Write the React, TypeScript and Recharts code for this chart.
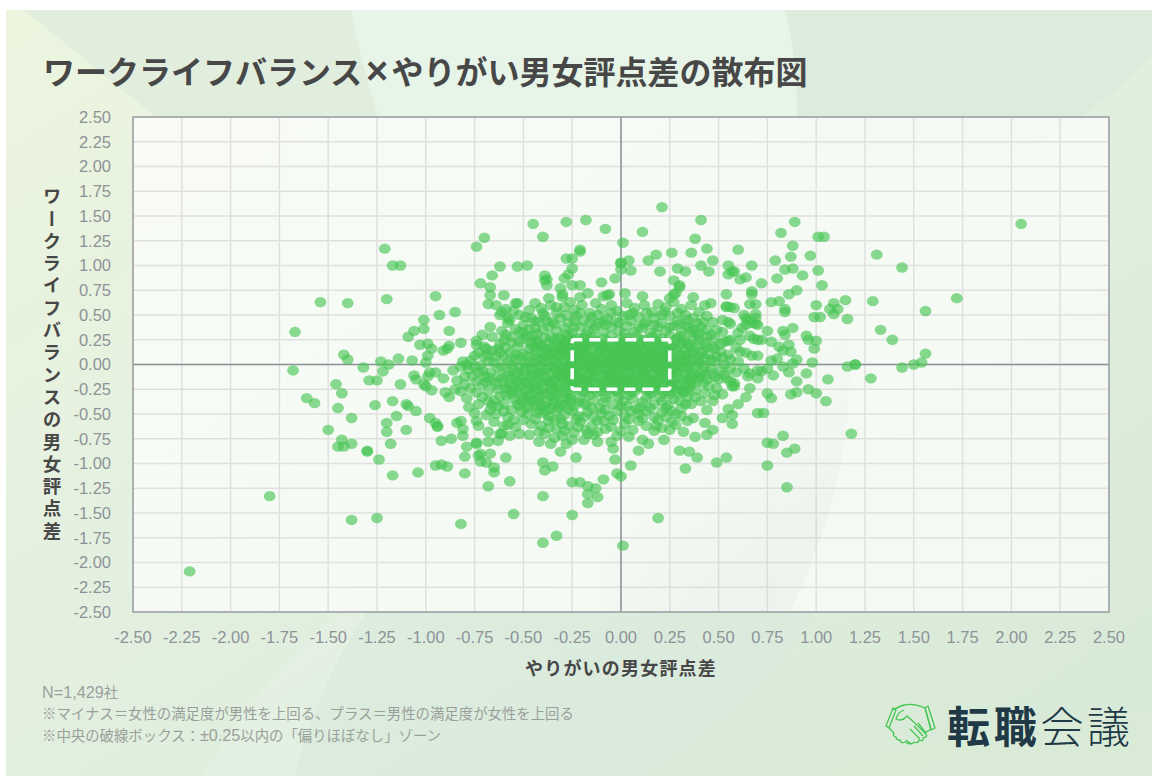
import { ScatterChart, Scatter, XAxis, YAxis, CartesianGrid, ReferenceLine, ReferenceArea } from 'recharts';

const titleStart = 'ワークライフバランス';
const titleCross = '×';
const titleEnd = 'やりがい男女評点差の散布図';
const xAxisTitle = 'やりがいの男女評点差';
const yAxisTitle = 'ワークライフバランスの男女評点差';
const notes = [
  'N=1,429社',
  '※マイナス＝女性の満足度が男性を上回る、プラス＝男性の満足度が女性を上回る',
  '※中央の破線ボックス：±0.25以内の「偏りほぼなし」ゾーン',
];
const ticks = [-2.5, -2.25, -2, -1.75, -1.5, -1.25, -1, -0.75, -0.5, -0.25, 0, 0.25, 0.5, 0.75, 1, 1.25, 1.5, 1.75, 2, 2.25, 2.5];

// 左側の外れ値 (上)
const leftUpper = [
  [-0.70,1.28],[-0.74,1.19],[-1.21,1.17],[-1.17,1.00],[-1.13,1.00],[-0.62,0.99],[-0.53,0.99],[-0.66,0.90],[-0.72,0.82],[-0.67,0.78],
  [-0.67,0.70],[-0.60,0.70],[-0.95,0.69],[-1.20,0.66],[-1.54,0.63],[-1.40,0.62],[-0.68,0.61],[-0.64,0.60],[-0.54,0.62],[-0.59,0.56],
  [-0.85,0.53],[-0.93,0.50],[-0.62,0.50],[-0.58,0.47],[-1.01,0.45],[-1.01,0.36],[-1.06,0.34],[-1.09,0.28],[-0.88,0.34],[-0.67,0.38],
  [-0.61,0.34],[-0.58,0.42],[-0.54,0.36],[-1.67,0.33],[-0.56,0.28],[-1.03,0.20],[-0.99,0.21],[-0.97,0.16],[-0.82,0.22],[-0.88,0.19],
  [-0.89,0.16],[-0.91,0.14],[-0.74,0.24],[-0.74,0.20],[-0.70,0.18],[-0.69,0.16],[-0.62,0.21],[-0.63,0.16],[-0.59,0.17],[-0.52,0.23],
  [-1.42,0.10],[-1.40,0.05],[-1.23,0.03],[-1.19,0.00],[-1.14,0.06],[-1.07,0.04],[-1.00,0.02],[-0.99,0.09],[-0.75,0.09],[-0.77,0.04],
  [-0.81,0.03],[-0.82,-0.02],[-0.72,-0.01],
];

// 左側の外れ値 (下)
const leftLower = [
  [-1.32,-0.03],[-1.68,-0.06],[-1.22,-0.07],[-0.95,-0.08],[-0.98,-0.08],[-1.06,-0.11],[-1.05,-0.15],[-0.99,-0.12],[-0.80,-0.12],[-0.76,-0.12],
  [-1.29,-0.16],[-1.25,-0.16],[-1.13,-0.20],[-1.46,-0.20],[-1.01,-0.20],[-1.00,-0.22],[-0.97,-0.26],[-1.43,-0.29],[-0.71,-0.20],[-0.69,-0.18],
  [-0.68,-0.27],[-0.90,-0.28],[-0.82,-0.27],[-1.61,-0.34],[-1.57,-0.39],[-1.45,-0.44],[-1.38,-0.54],[-1.26,-0.41],[-1.17,-0.37],[-1.10,-0.40],
  [-1.09,-0.42],[-1.05,-0.47],[-1.15,-0.52],[-1.20,-0.59],[-1.20,-0.68],[-1.10,-0.66],[-1.50,-0.66],[-1.43,-0.76],[-1.38,-0.80],[-1.45,-0.83],
  [-1.42,-0.83],[-1.30,-0.87],[-1.30,-0.88],[-1.24,-0.96],[-1.18,-0.80],[-1.17,-1.12],[-1.04,-1.09],[-1.80,-1.33],[-1.38,-1.57],[-1.25,-1.55],
  [-0.82,-1.61],[-0.55,-1.51],[-2.21,-2.09],[-0.98,-0.54],[-0.95,-0.59],[-0.94,-0.63],[-0.94,-0.62],[-0.84,-0.59],[-0.82,-0.57],[-0.81,-0.65],
  [-0.81,-0.72],[-0.92,-0.77],[-0.87,-0.75],[-0.79,-0.83],[-0.74,-0.79],[-0.74,-0.80],[-0.68,-0.78],[-0.63,-0.77],[-0.68,-0.68],[-0.62,-0.70],
  [-0.73,-0.62],[-0.74,-0.57],[-0.75,-0.49],[-0.78,-0.43],[-0.67,-0.90],[-0.59,-0.94],[-0.80,-0.93],[-0.73,-0.92],[-0.72,-0.90],[-0.72,-0.98],
  [-0.69,-0.99],[-0.95,-1.02],[-0.92,-1.01],[-0.89,-1.03],[-0.80,-1.10],[-0.65,-1.04],[-0.65,-1.09],[-0.57,-1.18],[-0.68,-1.23],[-0.67,-0.46],
  [-0.63,-0.42],[-0.79,-0.34],[-0.88,-0.33],
];

// 右側
const rightSide = [
  [0.89,1.44],[0.82,1.33],[1.01,1.29],[1.04,1.29],[0.88,1.20],[0.60,1.16],[0.87,1.09],[0.97,1.10],[0.79,1.05],[1.31,1.11],
  [1.44,0.98],[2.05,1.42],[0.55,1.00],[0.67,1.00],[0.84,0.96],[0.88,0.97],[1.01,0.95],[0.58,0.94],[0.57,0.94],[0.55,0.91],
  [0.93,0.90],[0.64,0.88],[0.61,0.86],[0.80,0.87],[0.72,0.82],[1.03,0.80],[0.67,0.74],[0.67,0.71],[0.90,0.75],[0.86,0.71],
  [0.54,0.71],[1.72,0.67],[1.29,0.64],[1.15,0.65],[1.09,0.62],[0.81,0.64],[0.77,0.63],[1.00,0.60],[0.69,0.61],[0.66,0.61],
  [0.54,0.59],[0.56,0.58],[0.58,0.57],[1.56,0.54],[1.07,0.56],[1.11,0.56],[1.09,0.51],[0.84,0.56],[0.84,0.53],[0.63,0.50],
  [0.69,0.51],[0.99,0.48],[1.02,0.48],[1.16,0.46],[0.64,0.47],[0.65,0.45],[0.69,0.47],[0.52,0.45],[0.55,0.43],[0.56,0.41],
  [0.64,0.40],[0.67,0.42],[0.69,0.41],[0.70,0.40],[0.62,0.37],[0.88,0.37],[0.75,0.34],[0.83,0.34],[0.84,0.30],[1.33,0.35],
  [1.39,0.25],[0.60,0.32],[0.66,0.29],[0.95,0.29],[0.96,0.25],[1.00,0.24],[0.72,0.25],[0.70,0.25],[0.77,0.23],[0.52,0.33],
  [0.53,0.23],[0.55,0.24],[0.59,0.17],[0.81,0.18],[0.86,0.20],[0.99,0.16],[1.56,0.11],[0.64,0.12],[0.67,0.09],[0.70,0.09],
  [0.83,0.14],[0.87,0.13],[0.80,0.06],[0.77,0.04],[0.90,0.05],[0.88,0.01],[0.98,0.02],[1.16,-0.02],[1.20,0.00],[1.20,0.00],
  [1.44,-0.03],[1.50,0.00],[1.54,0.02],[0.83,-0.02],[0.86,-0.08],[0.95,-0.09],[0.78,-0.11],[0.75,-0.04],[0.72,-0.07],[0.70,-0.14],
  [1.06,-0.15],[1.28,-0.14],[0.90,-0.17],[0.96,-0.25],[1.00,-0.29],[0.90,-0.28],[0.87,-0.30],[1.05,-0.37],[0.75,-0.29],[0.77,-0.34],
  [0.64,-0.33],[0.58,-0.19],[0.57,-0.22],[0.54,-0.14],[0.63,-0.04],[0.66,-0.09],[0.56,0.05],[1.18,-0.70],[0.83,-0.72],[0.75,-0.79],
  [0.78,-0.80],[0.89,-0.85],[0.85,-0.89],[0.75,-1.02],[0.85,-1.24],[0.54,-0.94],[0.49,-0.99],[0.36,-0.40],[0.44,-0.46],[0.47,-0.37],
  [0.37,-0.54],[0.43,-0.59],[0.55,-0.45],[0.57,-0.51],[0.52,-0.54],[0.57,-0.60],[0.70,-0.49],[0.38,-0.26],[0.42,-0.19],[0.45,-0.22],
  [0.49,-0.24],[0.56,-0.17],[0.58,-0.22],[0.65,-0.12],[0.40,0.08],[0.45,0.10],[0.51,0.13],[0.61,0.13],[0.46,-0.04],[0.51,-0.06],
  [0.56,-0.04],[0.70,-0.06],[0.61,0.25],[0.68,0.26],[0.51,0.21],[0.49,0.35],[0.56,0.25],[0.40,0.25],[0.44,0.35],[0.39,0.42],
  [0.34,0.45],[0.40,0.53],[0.46,0.62],[0.43,0.60],[0.54,0.58],[0.73,-0.49],[0.60,-0.40],[0.66,-0.24],
];

// 上側・下側の散らばり
const topBottom = [
  [0.21,1.59],[0.41,1.46],[-0.18,1.46],[-0.28,1.44],[-0.45,1.42],[-0.08,1.37],[0.11,1.34],[-0.40,1.29],[0.01,1.23],[0.38,1.27],
  [0.44,1.17],[0.36,1.13],[0.26,1.13],[0.18,1.11],[0.14,1.05],[0.04,1.05],[-0.21,1.16],[-0.21,1.14],[-0.28,1.07],[-0.25,1.07],
  [0.00,1.03],[0.00,1.02],[0.00,0.96],[0.05,0.95],[-0.25,0.97],[-0.48,1.00],[0.47,1.05],[0.41,1.00],[0.45,0.94],[0.20,0.94],
  [0.29,0.97],[0.33,0.94],[0.27,0.85],[0.30,0.80],[0.30,0.78],[-0.03,0.87],[-0.10,0.83],[-0.29,0.87],[-0.27,0.91],[-0.39,0.90],
  [-0.38,0.86],[-0.39,0.85],[-0.38,0.80],[-0.31,0.77],[-0.25,0.80],[-0.21,0.80],[-0.30,0.71],[-0.30,0.68],[-0.21,0.68],[-0.17,0.72],
  [-0.07,0.70],[-0.06,0.71],[-0.09,0.69],[0.02,0.72],[0.11,0.69],[0.27,0.71],[0.25,0.67],[0.37,0.68],[0.28,0.72],[-0.37,0.67],
  [0.30,-0.87],[0.35,-0.88],[0.39,-0.94],[0.33,-1.05],[0.38,-0.73],[0.44,-0.71],[0.47,-0.66],[0.22,-0.76],[0.17,-0.67],[0.21,-0.64],
  [0.14,-0.80],[0.11,-0.76],[0.09,-0.87],[0.05,-1.02],[-0.04,-0.85],[-0.03,-0.96],[-0.02,-1.10],[0.00,-1.13],[-0.09,-1.16],[-0.25,-1.19],
  [-0.21,-1.19],[-0.17,-1.23],[-0.13,-1.25],[-0.17,-1.31],[-0.12,-1.34],[-0.17,-1.40],[-0.40,-1.33],[-0.40,-0.99],[-0.39,-1.07],[-0.35,-1.03],
  [-0.23,-0.94],[-0.31,-0.88],[0.19,-1.55],[-0.25,-1.52],[-0.33,-1.73],[-0.40,-1.80],[0.01,-1.83],
];

// 中心から上 (0.3 - 0.7)
const midUpper = [
  [-0.53,0.62],[-0.47,0.55],[-0.40,0.35],[-0.61,0.53],[-0.57,0.45],[-0.50,0.40],[-0.46,0.23],[-0.59,0.30],[-0.44,0.62],[-0.41,0.57],
  [-0.36,0.60],[-0.33,0.52],[-0.29,0.58],[-0.26,0.63],[-0.24,0.55],[-0.20,0.60],[-0.16,0.52],[-0.13,0.62],[-0.10,0.56],[-0.05,0.60],
  [-0.02,0.54],[0.03,0.62],[0.07,0.57],[0.12,0.60],[0.16,0.53],[0.19,0.61],[0.23,0.58],[0.27,0.63],[0.31,0.56],[0.36,0.60],
  [-0.49,0.48],[-0.44,0.44],[-0.39,0.49],[-0.35,0.43],[-0.31,0.47],[-0.27,0.42],[-0.23,0.49],[-0.19,0.44],[-0.15,0.48],[-0.11,0.42],
  [-0.07,0.47],[-0.03,0.43],[0.01,0.49],[0.05,0.44],[0.09,0.48],[0.13,0.43],[0.17,0.47],[0.21,0.42],[0.25,0.49],[0.29,0.44],
  [0.33,0.50],[0.37,0.36],[0.44,0.49],[0.47,0.43],[-0.52,0.33],[-0.47,0.36],[-0.43,0.31],[-0.37,0.38],[-0.33,0.34],[-0.29,0.37],
  [-0.25,0.32],[-0.21,0.38],[-0.17,0.34],[-0.13,0.39],[-0.09,0.33],[-0.05,0.38],[-0.01,0.34],[0.03,0.39],[0.07,0.33],[0.11,0.37],
  [0.15,0.32],[0.19,0.38],[0.23,0.34],[0.27,0.39],[0.31,0.33],[0.35,0.37],[0.40,0.32],[0.46,0.30],[-0.24,0.44],[-0.14,0.36],
  [0.06,0.52],[0.22,0.53],[-0.08,0.40],[0.12,0.41],[0.30,0.41],[-0.34,0.41],[-0.18,0.30],[0.02,0.31],[0.18,0.31],[0.42,0.43],
];

// 中心から下 (-0.3 - -0.8)
const midLower = [
  [-0.47,-0.36],[-0.40,-0.49],[-0.50,-0.56],[-0.58,-0.61],[-0.61,-0.70],[-0.47,-0.71],[-0.42,-0.78],[-0.36,-0.80],[-0.28,-0.80],[-0.19,-0.76],
  [-0.17,-0.70],[-0.43,-0.36],[-0.36,-0.44],[-0.57,-0.26],[-0.55,-0.35],[-0.60,-0.40],[-0.64,-0.50],[-0.56,-0.46],[-0.52,-0.42],[-0.48,-0.50],
  [-0.44,-0.55],[-0.41,-0.62],[-0.37,-0.57],[-0.33,-0.65],[-0.31,-0.55],[-0.27,-0.62],[-0.24,-0.69],[-0.21,-0.58],[-0.15,-0.62],[-0.12,-0.68],
  [-0.09,-0.57],[-0.05,-0.63],[-0.02,-0.72],[0.02,-0.60],[0.06,-0.66],[0.09,-0.57],[0.13,-0.62],[0.26,-0.58],[0.31,-0.52],[-0.58,-0.53],
  [-0.54,-0.63],[-0.52,-0.70],[-0.39,-0.70],[-0.34,-0.74],[-0.30,-0.72],[-0.25,-0.76],[-0.12,-0.78],[0.23,-0.53],[0.28,-0.61],[0.32,-0.68],
  [-0.46,-0.30],[-0.42,-0.33],[-0.38,-0.38],[-0.34,-0.33],[-0.31,-0.40],[-0.28,-0.35],[-0.24,-0.42],[-0.21,-0.34],[-0.18,-0.41],[-0.14,-0.36],
  [-0.11,-0.44],[-0.08,-0.34],[-0.04,-0.40],[-0.01,-0.33],[0.03,-0.42],[0.06,-0.35],[0.10,-0.43],[0.13,-0.34],[0.17,-0.40],[0.20,-0.33],
  [0.24,-0.41],[0.27,-0.35],[0.31,-0.44],[0.34,-0.33],[-0.33,-0.47],[-0.29,-0.51],[-0.25,-0.47],[-0.22,-0.52],[-0.17,-0.48],[-0.14,-0.53],
  [-0.10,-0.49],[-0.06,-0.52],[-0.02,-0.47],[0.02,-0.52],[0.05,-0.47],[0.09,-0.50],[0.13,-0.47],[0.17,-0.53],[0.21,-0.48],[0.26,-0.47],
  [-0.36,-0.32],[-0.26,-0.30],[-0.16,-0.31],[-0.06,-0.30],[0.04,-0.31],[0.15,-0.30],[0.25,-0.30],[0.29,-0.29],[0.33,-0.27],[-0.30,-0.60],
];

// 中央の左右 (左ウイング)
const leftWing = [
  [-0.54,0.05],[-0.61,-0.02],[-0.57,0.12],[-0.64,0.08],[-0.68,0.03],[-0.60,0.25],[-0.66,0.28],[-0.71,0.30],[-0.53,0.18],[-0.50,0.11],
  [-0.47,0.16],[-0.44,0.09],[-0.41,0.19],[-0.49,0.02],[-0.45,-0.03],[-0.58,-0.07],[-0.63,-0.12],[-0.67,-0.08],[-0.71,-0.06],[-0.54,-0.12],
  [-0.50,-0.07],[-0.47,-0.15],[-0.43,-0.10],[-0.60,-0.18],[-0.55,-0.22],[-0.51,-0.18],[-0.47,-0.24],[-0.43,-0.19],[-0.63,-0.25],[-0.59,-0.31],
  [-0.65,-0.36],[-0.71,-0.33],[-0.77,-0.24],[-0.84,-0.16],[-0.86,-0.06],[-0.91,-0.14],[-0.78,-0.05],[-0.73,0.12],[-0.66,0.14],[-0.39,0.27],
  [-0.45,0.29],[-0.50,0.26],[-0.54,0.10],[-0.40,0.12],[-0.39,0.03],[-0.40,-0.05],[-0.39,-0.14],[-0.40,-0.24],[-0.52,-0.29],[-0.44,0.02],
];

// 中心部 (密集)
const core = [
  [-0.36,0.28],[-0.31,0.26],[-0.27,0.29],[-0.22,0.27],[-0.18,0.25],[-0.14,0.28],[-0.09,0.26],[-0.05,0.29],[-0.01,0.25],[0.03,0.27],[0.08,0.29],[0.12,0.25],[0.16,0.28],[0.21,0.26],[0.25,0.29],[0.29,0.27],[0.33,0.24],[0.37,0.28],
  [-0.37,0.22],[-0.33,0.20],[-0.29,0.23],[-0.25,0.19],[-0.21,0.22],[-0.17,0.20],[-0.12,0.23],[-0.08,0.19],[-0.04,0.22],[0.00,0.20],[0.05,0.23],[0.09,0.19],[0.13,0.22],[0.18,0.20],[0.22,0.23],[0.26,0.19],[0.31,0.22],[0.35,0.19],[0.39,0.20],[0.44,0.18],
  [-0.38,0.16],[-0.34,0.14],[-0.30,0.17],[-0.26,0.13],[-0.23,0.16],[-0.19,0.14],[-0.15,0.17],[-0.11,0.13],[-0.06,0.16],[-0.02,0.14],[0.02,0.17],[0.07,0.13],[0.11,0.16],[0.15,0.14],[0.20,0.17],[0.24,0.13],[0.28,0.16],[0.33,0.14],[0.37,0.17],[0.42,0.14],[0.48,0.16],
  [-0.36,0.10],[-0.32,0.08],[-0.28,0.11],[-0.24,0.07],[-0.20,0.10],[-0.16,0.08],[-0.13,0.11],[-0.09,0.07],[-0.04,0.10],[0.00,0.08],[0.04,0.11],[0.09,0.07],[0.13,0.10],[0.17,0.08],[0.22,0.11],[0.26,0.07],[0.30,0.10],[0.34,0.08],[0.37,0.11],[0.43,0.06],[0.49,0.08],
  [-0.37,0.04],[-0.33,0.02],[-0.29,0.05],[-0.25,0.01],[-0.21,0.04],[-0.17,0.02],[-0.14,0.05],[-0.10,0.01],[-0.06,0.04],[-0.02,0.02],[0.03,0.05],[0.07,0.01],[0.11,0.04],[0.15,0.02],[0.19,0.05],[0.24,0.01],[0.28,0.04],[0.32,0.02],[0.36,0.04],[0.40,0.01],[0.48,0.03],[0.53,0.00],
  [-0.35,-0.02],[-0.31,-0.04],[-0.27,-0.01],[-0.23,-0.05],[-0.19,-0.02],[-0.15,-0.04],[-0.12,-0.01],[-0.08,-0.05],[-0.03,-0.02],[0.01,-0.04],[0.05,-0.01],[0.10,-0.05],[0.14,-0.02],[0.18,-0.04],[0.22,-0.01],[0.26,-0.05],[0.30,-0.02],[0.34,-0.04],[0.38,-0.02],[0.42,-0.06],
  [-0.36,-0.08],[-0.32,-0.10],[-0.28,-0.07],[-0.24,-0.11],[-0.20,-0.08],[-0.16,-0.10],[-0.13,-0.07],[-0.09,-0.11],[-0.05,-0.08],[-0.01,-0.10],[0.04,-0.07],[0.08,-0.11],[0.12,-0.08],[0.16,-0.10],[0.21,-0.07],[0.25,-0.11],[0.29,-0.08],[0.33,-0.10],[0.37,-0.08],[0.43,-0.11],[0.48,-0.13],
  [-0.38,-0.14],[-0.34,-0.16],[-0.30,-0.13],[-0.26,-0.17],[-0.22,-0.14],[-0.18,-0.16],[-0.14,-0.13],[-0.10,-0.17],[-0.06,-0.14],[-0.02,-0.16],[0.02,-0.13],[0.06,-0.17],[0.11,-0.14],[0.15,-0.16],[0.19,-0.13],[0.23,-0.17],[0.27,-0.14],[0.32,-0.16],[0.36,-0.15],[0.40,-0.13],[0.50,-0.15],
  [-0.36,-0.20],[-0.32,-0.22],[-0.28,-0.19],[-0.24,-0.23],[-0.20,-0.20],[-0.17,-0.22],[-0.13,-0.19],[-0.09,-0.23],[-0.04,-0.20],[0.00,-0.22],[0.04,-0.19],[0.08,-0.23],[0.13,-0.20],[0.17,-0.22],[0.21,-0.19],[0.25,-0.23],[0.29,-0.20],[0.33,-0.22],[0.36,-0.20],
  [-0.35,-0.26],[-0.31,-0.25],[-0.27,-0.27],[-0.22,-0.25],[-0.18,-0.28],[-0.14,-0.25],[-0.10,-0.27],[-0.05,-0.25],[-0.01,-0.28],[0.03,-0.25],[0.07,-0.27],[0.12,-0.25],[0.16,-0.28],[0.20,-0.25],[0.24,-0.27],[0.28,-0.25],[0.32,-0.28],
  [-0.30,0.12],[-0.20,0.03],[-0.10,0.15],[-0.15,-0.06],[-0.05,0.06],[0.05,-0.03],[0.12,0.12],[0.20,-0.09],[-0.08,-0.18],[0.10,0.21],[-0.22,-0.12],[0.18,0.00],[0.02,0.09],[-0.12,0.18],[0.08,-0.15],
  [-0.18,0.09],[-0.06,-0.09],[0.14,0.06],[0.23,0.15],[-0.26,0.19],[0.06,0.18],[-0.02,-0.18],[0.27,-0.04],[-0.28,-0.02],[0.16,-0.19],[0.00,0.00],[-0.11,-0.03],[0.11,0.01],[0.22,0.03],[-0.21,0.14],
];

// 中心部の重なり分 (読み取り推定)
const coreDense = [
  [-0.34,0.25],[-0.29,0.20],[-0.24,0.25],[-0.19,0.18],[-0.15,0.23],[-0.11,0.20],[-0.07,0.24],[-0.03,0.18],[0.01,0.23],[0.06,0.20],[0.10,0.25],[0.14,0.19],[0.19,0.23],[0.24,0.21],[0.28,0.25],[0.34,0.21],
  [-0.35,0.12],[-0.31,0.15],[-0.27,0.09],[-0.22,0.12],[-0.18,0.15],[-0.14,0.08],[-0.08,0.12],[-0.04,0.14],[0.01,0.12],[0.05,0.15],[0.09,0.10],[0.14,0.12],[0.18,0.14],[0.23,0.09],[0.27,0.12],[0.32,0.10],[0.36,0.13],
  [-0.34,0.05],[-0.30,0.01],[-0.26,0.04],[-0.22,-0.01],[-0.18,0.05],[-0.12,0.03],[-0.08,0.05],[-0.04,0.00],[0.01,0.03],[0.05,0.06],[0.09,0.02],[0.13,0.06],[0.17,0.00],[0.21,0.06],[0.26,0.02],[0.31,0.05],[0.35,0.00],
  [-0.33,-0.06],[-0.29,-0.09],[-0.25,-0.04],[-0.21,-0.07],[-0.17,-0.03],[-0.11,-0.07],[-0.07,-0.02],[-0.02,-0.06],[0.03,-0.09],[0.07,-0.04],[0.11,-0.07],[0.15,-0.03],[0.19,-0.07],[0.24,-0.03],[0.28,-0.07],[0.32,-0.04],[0.36,-0.09],
  [-0.35,-0.17],[-0.31,-0.13],[-0.27,-0.20],[-0.23,-0.16],[-0.19,-0.19],[-0.15,-0.15],[-0.11,-0.21],[-0.07,-0.16],[-0.03,-0.13],[0.02,-0.20],[0.05,-0.14],[0.09,-0.18],[0.14,-0.13],[0.18,-0.19],[0.22,-0.15],[0.26,-0.20],[0.30,-0.14],[0.35,-0.18],
  [-0.33,-0.24],[-0.29,-0.28],[-0.25,-0.22],[-0.20,-0.27],[-0.16,-0.23],[-0.12,-0.28],[-0.07,-0.23],[-0.03,-0.26],[0.01,-0.23],[0.05,-0.28],[0.10,-0.23],[0.14,-0.26],[0.18,-0.23],[0.22,-0.28],[0.27,-0.22],[0.31,-0.26],[0.35,-0.24],
  [-0.23,0.08],[-0.16,-0.01],[-0.06,0.01],[0.06,0.08],[0.17,0.11],[0.21,-0.03],[-0.13,-0.13],[0.00,0.15],[-0.19,0.21],[0.25,0.17],[-0.26,-0.13],[0.09,-0.09],[-0.04,-0.06],[0.12,-0.01],[-0.09,0.17],[0.19,-0.16],
  [-0.20,0.16],[-0.12,0.07],[-0.02,0.07],[0.07,0.04],[0.16,0.05],[0.24,-0.08],[-0.24,-0.02],[-0.17,-0.12],[-0.07,-0.12],[0.03,-0.16],[0.13,-0.11],[0.22,0.08],[-0.03,0.11],[0.08,0.14],[0.16,0.21],[-0.14,0.25],
];

// 周辺の重なり分 (読み取り推定)
const ringDense = [
  [-0.48,0.08],[-0.46,-0.05],[-0.44,0.14],[-0.42,-0.08],[-0.41,0.05],[-0.46,0.20],[-0.43,0.24],[-0.52,-0.02],[-0.50,-0.12],[-0.47,-0.20],[-0.44,-0.27],[-0.41,-0.18],[-0.52,-0.22],[-0.56,-0.14],[-0.59,-0.24],[-0.62,-0.32],[-0.56,-0.30],[-0.50,-0.34],
  [-0.53,-0.40],[-0.48,-0.44],[-0.44,-0.42],[-0.40,-0.30],[-0.39,-0.42],[-0.35,-0.37],[-0.32,-0.44],[-0.29,-0.41],[-0.26,-0.38],[-0.43,-0.49],[-0.37,-0.52],[-0.34,-0.56],[-0.46,-0.60],[-0.51,-0.48],[-0.55,-0.56],[-0.42,-0.68],[-0.37,-0.64],[-0.29,-0.67],
  [-0.60,-0.47],[-0.66,-0.41],[-0.69,-0.51],[-0.65,-0.58],[-0.60,-0.62],[-0.57,-0.72],[-0.63,-0.03],[-0.70,-0.12],[-0.74,-0.17],[-0.66,-0.17],[-0.74,-0.28],[-0.80,-0.20],[-0.85,-0.25],[-0.73,-0.40],[-0.68,-0.37],
  [-0.56,0.00],[-0.60,0.08],[-0.65,0.02],[-0.70,0.08],[-0.56,0.22],[-0.50,0.32],[-0.44,0.37],[-0.48,0.29],[-0.42,0.43],[-0.46,0.47],[-0.52,0.50],[-0.55,0.54],[-0.38,0.44],[-0.40,0.52],[-0.33,0.58],[-0.28,0.50],[-0.24,0.38],[-0.21,0.52],[-0.16,0.42],[-0.12,0.50],
  [-0.09,0.44],[-0.05,0.52],[-0.01,0.42],[0.04,0.50],[0.09,0.38],[0.13,0.52],[0.17,0.40],[0.21,0.50],[0.25,0.38],[0.29,0.52],[0.33,0.40],[0.37,0.47],[0.41,0.38],[0.44,0.28],[0.39,0.30],[0.36,0.33],[0.31,0.29],[0.43,0.22],[0.48,0.26],[0.47,0.18],
  [0.41,0.12],[0.46,0.05],[0.39,0.04],[0.43,-0.01],[0.41,-0.09],[0.47,-0.09],[0.52,0.07],[0.55,0.10],[0.53,-0.10],[0.60,0.03],[0.59,-0.08],[0.39,-0.17],[0.44,-0.15],[0.38,-0.33],[0.43,-0.29],[0.48,-0.31],[0.41,-0.37],[0.52,-0.30],
  [-0.27,-0.45],[-0.23,-0.55],[-0.19,-0.53],[-0.15,-0.44],[-0.12,-0.57],[-0.08,-0.46],[-0.04,-0.56],[0.00,-0.42],[0.04,-0.55],[0.08,-0.45],[0.11,-0.54],[0.15,-0.44],[0.19,-0.56],[0.23,-0.44],[0.28,-0.50],[0.33,-0.40],[0.34,-0.57],[0.30,-0.37],
  [-0.22,-0.63],[-0.18,-0.66],[-0.14,-0.71],[-0.08,-0.65],[0.00,-0.67],[0.04,-0.73],[-0.05,-0.78],[-0.19,-0.39],[-0.09,-0.38],[0.01,-0.37],[0.11,-0.38],[0.21,-0.37],[0.18,-0.62],[0.25,-0.66],
];

// 左下寄りの濃い部分 (読み取り推定)
const leftDense = [
  [-0.58,0.03],[-0.55,-0.05],[-0.52,0.08],[-0.49,-0.03],[-0.47,0.03],[-0.45,-0.10],[-0.43,0.06],[-0.42,-0.14],[-0.41,-0.02],[-0.39,0.08],[-0.38,-0.05],[-0.37,-0.17],[-0.40,0.17],[-0.38,0.10],[-0.42,0.21],[-0.44,0.18],
  [-0.58,-0.11],[-0.53,-0.08],[-0.49,-0.17],[-0.46,-0.12],[-0.44,-0.22],[-0.42,-0.25],[-0.49,-0.26],[-0.53,-0.17],[-0.57,-0.20],[-0.54,-0.27],[-0.48,-0.32],[-0.45,-0.36],[-0.41,-0.40],[-0.38,-0.29],[-0.36,-0.24],[-0.33,-0.30],
  [-0.51,-0.37],[-0.47,-0.41],[-0.42,-0.46],[-0.38,-0.47],[-0.34,-0.40],[-0.30,-0.34],[-0.26,-0.34],[-0.22,-0.38],[-0.61,-0.14],[-0.64,-0.20],[-0.68,-0.13],[-0.73,-0.08],[-0.62,0.12],[-0.68,0.10],[-0.75,-0.02],[-0.79,0.00],
  [-0.34,-0.03],[-0.30,-0.06],[-0.26,-0.09],[-0.33,0.09],[-0.28,0.14],[-0.33,-0.12],[-0.29,-0.16],[-0.24,-0.19],[-0.20,-0.14],[-0.31,0.19],[-0.27,0.24],[-0.23,0.21],[-0.19,0.27],[-0.35,0.18],[-0.32,0.27],[-0.28,0.31],
  [-0.04,0.05],[0.03,0.00],[-0.01,-0.01],[-0.07,0.09],[0.03,0.13],[-0.01,0.19],[0.04,0.21],[-0.05,-0.16],[0.00,-0.13],[0.05,-0.22],[0.08,0.05],[0.12,-0.15],[0.15,0.09],[0.20,0.13],[0.25,-0.16],[0.29,0.00],[0.33,0.05],[0.37,-0.12],[0.30,0.20],[0.34,-0.14],
];

const points = [...leftUpper, ...leftLower, ...rightSide, ...topBottom, ...midUpper, ...midLower, ...leftWing, ...core, ...coreDense, ...ringDense, ...leftDense].map(([x, y]) => ({ x, y }));
const domainCorners = [{ x: -2.5, y: -2.5 }, { x: 2.5, y: 2.5 }];

const formatTick = (value: number) => value.toFixed(2);

function Dot(props: any) {
  return <ellipse cx={props.cx} cy={props.cy} rx={5.9} ry={5.2} fill="#46c553" fillOpacity={0.64} />;
}

function NoDot() {
  return null;
}

function Background() {
  return (
    <svg width={1146} height={766} style={{ position: 'absolute', left: 6, top: 10 }}>
      <defs>
        <linearGradient id="bg" x1="0" y1="0" x2="1" y2="1">
          <stop offset="0" stopColor="#ecf5de" />
          <stop offset="0.45" stopColor="#e3f0e0" />
          <stop offset="1" stopColor="#d6e9d6" />
        </linearGradient>
      </defs>
      <rect width={1146} height={766} fill="url(#bg)" />
      <path d="M18 0 L150 107 L372 107 Q355 50 345 0 Z" fill="#e1eedd" />
      <path d="M345 0 L780 0 Q795 60 795 107 L372 107 Q355 50 345 0 Z" fill="#e7f4e8" />
      <path d="M779 0 L1146 0 L1146 45 Q1090 105 1020 140 L790 140 Q795 60 779 0 Z" fill="#dcebdc" />
      <path d="M197 766 Q244 680 334 602 L361 602 Q309 680 289 766 Z" fill="#ffffff" fillOpacity={0.12} />
      <path d="M289 766 Q309 680 361 602 L809 602 Q754 690 637 766 Z" fill="#d6e9de" fillOpacity={0.45} />
      <path d="M790 766 Q950 715 1146 700 L1146 766 Z" fill="#daebd6" fillOpacity={0.7} />
    </svg>
  );
}

function PlotShade() {
  return (
    <svg width={1152} height={776} style={{ position: 'absolute', left: 0, top: 0, pointerEvents: 'none' }}>
      <defs>
        <linearGradient id="shade" x1="0.2" y1="0.1" x2="0.9" y2="0.9">
          <stop offset="0.3" stopColor="#8a9a90" stopOpacity={0} />
          <stop offset="0.85" stopColor="#8a9a90" stopOpacity={0.06} />
        </linearGradient>
      </defs>
      <path d="M850 340 Q855 480 790 611 L600 611 L620 340 Z" fill="url(#shade)" />
    </svg>
  );
}

function Logo() {
  const green = '#46c553';
  return (
    <div style={{ position: 'absolute', left: 884, top: 702, width: 260, height: 50 }}>
      <svg width={54} height={44} viewBox="0 0 54 44" style={{ position: 'absolute', left: 0, top: 0 }} fill="none" stroke={green} strokeWidth={1.3} strokeLinejoin="round">
        <path d="M2 24 L9 6 L12 8 L5 26 Z" />
        <path d="M51 26 L44 4 L41 6 L47 28 Z" />
        <path d="M9 8 Q16 4 20 3 Q30 1 41 6 L47 27 L41 31 Q30 20 23 14 Q18 20 12 17 Q14 10 20 8" />
        <path d="M41 31 Q45 35 39 36 Q40 40 35 38 Q34 42 30 40 Q28 44 22 38" />
        <path d="M5 26 L10 31 Q8 34 12 35 Q12 38 16 38 Q17 42 21 40 Q24 42 27 42" />
        <path d="M26 27 L36 37 M30 24 L39 34 M34 21 L42 31" />
      </svg>
      <div style={{ position: 'absolute', left: 63, top: -6, whiteSpace: 'nowrap', fontFamily: '"Noto Sans CJK JP"', fontSize: 43, lineHeight: '56px', color: '#1f3947', letterSpacing: 3.7 }}>
        <span style={{ fontWeight: 700 }}>転職</span>
        <span style={{ fontWeight: 300 }}>会議</span>
      </div>
    </div>
  );
}

// 注記は英数字だけ少し大きい
function Note({ text }: { text: string }) {
  return (
    <>
      {text.split(/([A-Za-z0-9=,.±]+)/).map((part, i) =>
        i % 2 === 1 ? <span key={i} style={{ fontSize: 16.2 }}>{part}</span> : <span key={i}>{part}</span>
      )}
    </>
  );
}

export default function App() {
  return (
    <div style={{ position: 'fixed', left: 0, top: 0, width: 1152, height: 776, background: '#fff', overflow: 'hidden', fontFamily: '"Noto Sans CJK JP", sans-serif' }}>
      <Background />
      <div style={{ position: 'absolute', left: 43, top: 47, fontSize: 32, lineHeight: '46px', fontWeight: 700, color: '#474747', whiteSpace: 'nowrap' }}>
        {titleStart}
        <span style={{ fontFamily: '"Liberation Sans"', fontSize: 38, margin: '0 3.5px' }}>{titleCross}</span>
        {titleEnd}
      </div>
      <div style={{ position: 'absolute', left: 0, top: 0 }}>
        <ScatterChart width={1152} height={776} margin={{ top: 117, right: 43, bottom: 124, left: 73 }}>
          <CartesianGrid stroke="#e0e1df" strokeWidth={1.5} fill="#ffffff" fillOpacity={0.68} horizontalValues={ticks} verticalValues={ticks} />
          <XAxis
            type="number"
            dataKey="x"
            domain={[-2.5, 2.5]}
            ticks={ticks}
            interval={0}
            height={40}
            tickFormatter={formatTick}
            tickLine={false}
            axisLine={false}
            tickMargin={13}
            tick={{ fill: '#8e9298', fontSize: 16.5, fontFamily: '"Liberation Sans", sans-serif' }}
          />
          <YAxis
            type="number"
            dataKey="y"
            domain={[-2.5, 2.5]}
            ticks={ticks}
            interval={0}
            width={60}
            tickFormatter={formatTick}
            tickLine={false}
            axisLine={false}
            tickMargin={16}
            tick={{ fill: '#8e9298', fontSize: 16.5, fontFamily: '"Liberation Sans", sans-serif' }}
          />
          <ReferenceLine x={0} stroke="#8d9297" strokeWidth={1.5} />
          <ReferenceLine y={0} stroke="#8d9297" strokeWidth={1.5} />
          <Scatter data={points} isAnimationActive={false} shape={Dot} />
        </ScatterChart>
      </div>
      <PlotShade />
      {/* 点の上に載せる枠と破線ボックス */}
      <div style={{ position: 'absolute', left: 0, top: 0 }}>
        <ScatterChart width={1152} height={776} margin={{ top: 117, right: 43, bottom: 164, left: 133 }}>
          <XAxis type="number" dataKey="x" domain={[-2.5, 2.5]} hide />
          <YAxis type="number" dataKey="y" domain={[-2.5, 2.5]} hide />
          <Scatter data={domainCorners} isAnimationActive={false} shape={NoDot} />
          <ReferenceArea x1={-2.5} x2={2.5} y1={-2.5} y2={2.5} fill="none" stroke="#9a9ea1" strokeWidth={1.5} />
          <ReferenceArea x1={-0.25} x2={0.25} y1={-0.25} y2={0.25} fill="none" stroke="#ffffff" strokeWidth={3.5} strokeDasharray="11 7" radius={2} />
        </ScatterChart>
      </div>
      <div style={{ position: 'absolute', left: 38, top: 187, width: 28, textAlign: 'center', writingMode: 'vertical-rl', fontSize: 18.5, lineHeight: '28px', fontWeight: 700, letterSpacing: 3.8, color: '#474747', whiteSpace: 'nowrap' }}>{yAxisTitle}</div>
      <div style={{ position: 'absolute', left: 421, width: 400, top: 654, textAlign: 'center', fontSize: 18, lineHeight: '26px', fontWeight: 700, letterSpacing: 1.2, color: '#474747' }}>{xAxisTitle}</div>
      {notes.map((note, i) => (
        <div key={note} style={{ position: 'absolute', left: 42, top: 682 + i * 21.5, fontSize: 14.4, lineHeight: '20px', color: '#9a9f9c', whiteSpace: 'nowrap', fontFamily: '"Liberation Sans", "Noto Sans CJK JP"' }}><Note text={note} /></div>
      ))}
      <Logo />
    </div>
  );
}
